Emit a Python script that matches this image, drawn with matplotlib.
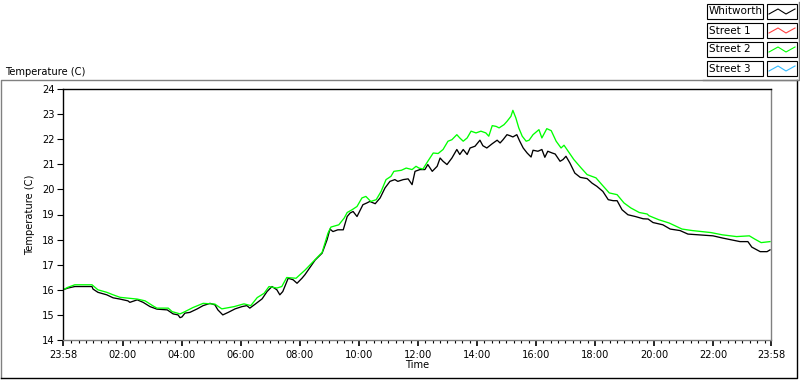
import matplotlib
matplotlib.use("Agg")
import matplotlib.pyplot as plt
from matplotlib.lines import Line2D
from matplotlib.patches import Rectangle
from matplotlib.ticker import FixedLocator

# readings: minutes after midnight, temperature (C)
whitworth_min = [-2, 8, 22, 37, 57, 59, 69, 87, 100, 114, 130, 134, 149, 161, 175, 189,
                 210, 222, 232, 236, 240, 246, 256, 271, 283, 297, 307, 313, 323, 334,
                 348, 362, 372, 378, 389, 403, 413, 423, 433, 439, 445, 456, 466, 474,
                 484, 490, 511, 525, 535, 541, 547, 557, 568, 576, 582, 588, 596, 602,
                 608, 616, 622, 633, 643, 653, 663, 673, 679, 690, 700, 708, 714, 724,
                 734, 740, 749, 759, 765, 771, 779, 789, 799, 805, 812, 820, 826, 836,
                 846, 852, 860, 871, 881, 887, 893, 901, 907, 913, 921, 927, 934, 942,
                 950, 954, 964, 972, 978, 984, 993, 999, 1009, 1015, 1021, 1029, 1039,
                 1050, 1064, 1074, 1084, 1096, 1107, 1117, 1125, 1135, 1147, 1162, 1178,
                 1188, 1198, 1218, 1233, 1253, 1269, 1290, 1320, 1340, 1375, 1391, 1399,
                 1416, 1430, 1436]
whitworth_t = [16.0, 16.07, 16.13, 16.13, 16.13, 16.03, 15.9, 15.8, 15.68, 15.63, 15.56,
               15.5, 15.6, 15.5, 15.33, 15.23, 15.2, 15.04, 15.0, 14.89, 14.92, 15.07,
               15.1, 15.24, 15.37, 15.46, 15.4, 15.2, 15.0, 15.1, 15.24, 15.33, 15.37,
               15.27, 15.43, 15.64, 15.93, 16.13, 16.0, 15.8, 15.93, 16.46, 16.4, 16.26,
               16.46, 16.6, 17.19, 17.46, 17.99, 18.42, 18.32, 18.39, 18.39, 18.92,
               19.06, 19.12, 18.92, 19.16, 19.39, 19.46, 19.52, 19.43, 19.66, 20.06,
               20.32, 20.39, 20.32, 20.39, 20.42, 20.19, 20.72, 20.79, 20.79, 20.99,
               20.72, 20.92, 21.25, 21.12, 20.99, 21.25, 21.59, 21.39, 21.59, 21.39,
               21.65, 21.72, 21.96, 21.74, 21.65, 21.82, 21.96, 21.85, 21.98, 22.18,
               22.14, 22.09, 22.18, 21.92, 21.65, 21.45, 21.29, 21.56, 21.52, 21.59,
               21.28, 21.52, 21.45, 21.41, 21.12, 21.19, 21.32, 21.05, 20.65, 20.48,
               20.43, 20.25, 20.12, 19.92, 19.59, 19.55, 19.55, 19.19, 18.99, 18.92,
               18.83, 18.82, 18.68, 18.59, 18.42, 18.36, 18.22, 18.19, 18.15, 18.06,
               17.92, 17.92, 17.7, 17.52, 17.52, 17.59]

street2_min = [-2, 8, 22, 57, 69, 87, 100, 114, 149, 165, 181, 189, 212, 220, 236, 246,
               262, 283, 307, 321, 346, 366, 380, 393, 407, 417, 433, 443, 453, 472,
               490, 525, 537, 543, 559, 570, 576, 586, 596, 606, 614, 624, 635, 645,
               655, 665, 671, 686, 696, 708, 716, 722, 730, 740, 751, 761, 771, 781,
               789, 799, 805, 812, 820, 828, 838, 848, 858, 864, 871, 879, 885, 895,
               901, 909, 913, 919, 925, 932, 940, 946, 954, 966, 972, 982, 991, 1001,
               1011, 1017, 1023, 1037, 1052, 1064, 1082, 1094, 1109, 1125, 1139, 1153,
               1170, 1186, 1190, 1210, 1231, 1257, 1278, 1316, 1339, 1368, 1394, 1405,
               1418, 1436]
street2_t = [16.0, 16.1, 16.2, 16.2, 16.0, 15.9, 15.8, 15.7, 15.63, 15.56, 15.36, 15.27,
             15.27, 15.13, 15.04, 15.13, 15.29, 15.46, 15.43, 15.24, 15.33, 15.44, 15.37,
             15.69, 15.86, 16.13, 16.07, 16.13, 16.49, 16.46, 16.78, 17.49, 18.26, 18.5,
             18.59, 18.86, 19.08, 19.19, 19.32, 19.66, 19.72, 19.52, 19.59, 19.92, 20.39,
             20.52, 20.72, 20.76, 20.85, 20.79, 20.92, 20.85, 20.81, 21.12, 21.45, 21.43,
             21.59, 21.92, 21.98, 22.18, 22.05, 21.92, 22.05, 22.32, 22.25, 22.32, 22.25,
             22.12, 22.54, 22.51, 22.45, 22.58, 22.71, 22.91, 23.15, 22.85, 22.45, 22.12,
             21.92, 21.96, 22.18, 22.38, 22.05, 22.42, 22.34, 21.92, 21.65, 21.76, 21.59,
             21.19, 20.85, 20.59, 20.46, 20.19, 19.86, 19.79, 19.46, 19.26, 19.08, 19.02,
             18.95, 18.79, 18.66, 18.42, 18.36, 18.28, 18.19, 18.12, 18.15, 18.02, 17.88,
             17.92]

legend_names = ["Whitworth", "Street 1", "Street 2", "Street 3"]
legend_colors = ["#000000", "#ff4040", "#00ff00", "#33bbff"]
x_tick_min = [-2, 120, 240, 360, 480, 600, 720, 840, 960, 1080, 1200, 1320, 1438]
x_tick_labels = ["23:58", "02:00", "04:00", "06:00", "08:00", "10:00", "12:00",
                 "14:00", "16:00", "18:00", "20:00", "22:00", "23:58"]

W, H = 800, 380
FS = 7.1
GRAY = "#808080"


def fx(x):
    return x / W


def fy(y):
    return 1 - y / H


fig = plt.figure(figsize=(8, 3.8), dpi=100)
fig.patch.set_facecolor("white")

# outer sunken frame
fig.add_artist(Line2D([fx(1), fx(1), fx(797)], [fy(378), fy(80), fy(80)],
                      color=GRAY, lw=1.0, transform=fig.transFigure))
fig.add_artist(Line2D([fx(1), fx(797), fx(797)], [fy(378), fy(378), fy(80)],
                      color="black", lw=1.0, transform=fig.transFigure))

ax = fig.add_axes([fx(63), fy(340), (771 - 63) / W, (340 - 89) / H])
ax.plot(whitworth_min, whitworth_t, color=legend_colors[0], lw=0.95)
ax.plot(street2_min, street2_t, color=legend_colors[2], lw=0.95)

ax.set_xlim(-2, 1438)
ax.set_ylim(14, 24)
ax.set_yticks(range(14, 25))
ax.xaxis.set_major_locator(FixedLocator(x_tick_min))
ax.set_xticklabels(x_tick_labels)
minor = [m for m in range(15, 1438, 15) if m % 120 != 0]
ax.xaxis.set_minor_locator(FixedLocator(minor))

ax.tick_params(axis="y", which="major", length=4.5, width=0.8, labelsize=FS, pad=1.5)
ax.tick_params(axis="x", which="major", length=4, width=1.2, labelsize=FS, pad=3,
               direction="out")
ax.tick_params(axis="x", which="minor", length=2.5, width=0.8)

ax.spines["left"].set_color("black")
ax.spines["top"].set_color("black")
ax.spines["bottom"].set_color(GRAY)
ax.spines["right"].set_color(GRAY)
for s in ax.spines.values():
    s.set_linewidth(1.0)

ax.set_xlabel("Time", fontsize=FS, labelpad=0)
ax.set_ylabel("Temperature (C)", fontsize=FS, labelpad=5)

fig.text(fx(5), fy(72), "Temperature (C)", fontsize=FS, ha="left", va="center")

# legend panel in the top right
for i, (name, col) in enumerate(zip(legend_names, legend_colors)):
    top = 4 + 19 * i
    fig.add_artist(Rectangle((fx(707), fy(top + 15)), 56 / W, 15 / H, fill=False,
                             edgecolor="black", lw=0.8, transform=fig.transFigure))
    fig.add_artist(Rectangle((fx(767), fy(top + 15)), 30 / W, 15 / H, fill=False,
                             edgecolor="black", lw=0.8, transform=fig.transFigure))
    fig.text(fx(709), fy(top + 7.5), name, fontsize=FS + 0.4, ha="left", va="center")
    zx = [fx(769), fx(778), fx(786), fx(795)]
    zy = [fy(top + 10), fy(top + 5), fy(top + 10), fy(top + 5)]
    fig.add_artist(Line2D(zx, zy, color=col, lw=0.8, transform=fig.transFigure))
fig.add_artist(Line2D([fx(799), fx(799), fx(703)], [fy(2), fy(80), fy(80)],
                      color=GRAY, lw=1.0, transform=fig.transFigure))

fig.savefig("out.png", dpi=100, facecolor="white")
